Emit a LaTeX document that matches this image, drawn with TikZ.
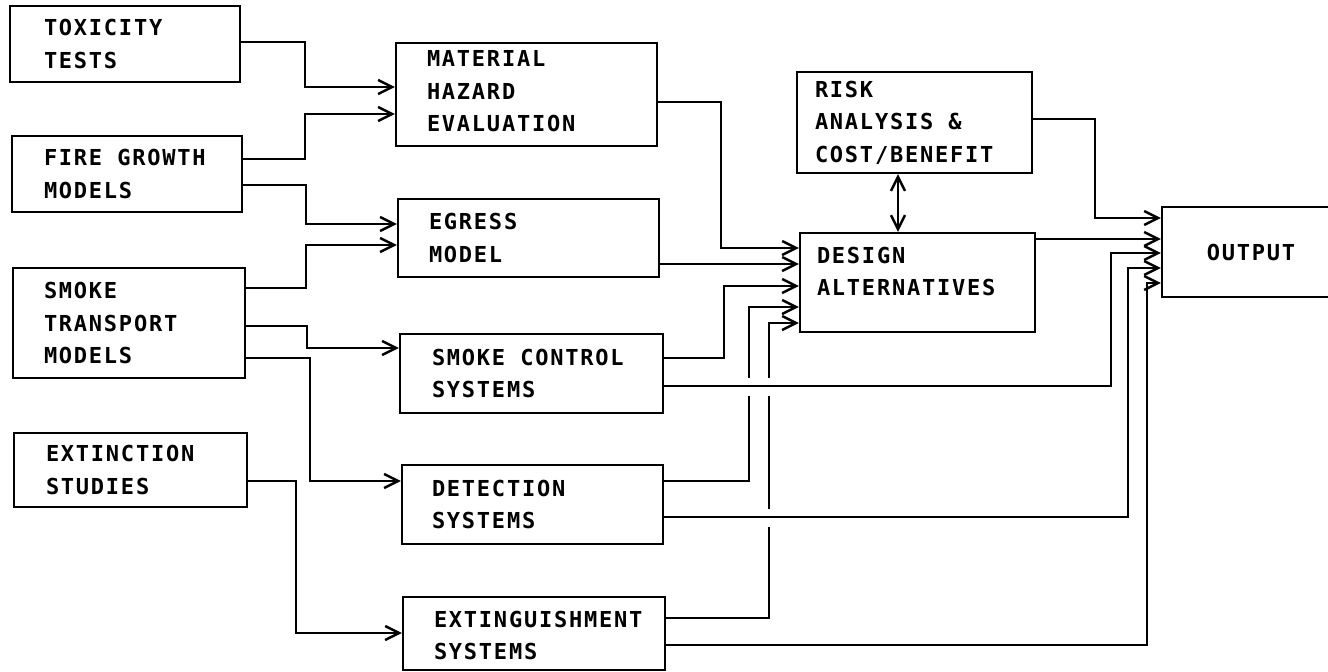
\documentclass[tikz,border=0pt]{standalone}
\usepackage{fontspec}
\newfontfamily\diagfont[LetterSpace=8]{DejaVu Sans Mono}
\usetikzlibrary{arrows.meta}
\begin{document}
\begin{tikzpicture}[x=1pt,y=-1pt,
  box/.style={draw, line width=2.4pt, inner sep=0pt},
  lbl/.style={anchor=west, inner sep=0pt, align=left,
    font={\diagfont\bfseries\fontsize{22}{32.5}\selectfont}},
  conn/.style={line width=2.4pt},
  arr/.style={conn, -{Straight Barb[length=14pt,width=14pt]}},
  dbl/.style={conn, {Straight Barb[length=14pt,width=14pt]}-{Straight Barb[length=14pt,width=14pt]}}
]
\fill[white] (0,0) rectangle (1328,672);
\useasboundingbox (0,0) rectangle (1328,672);

% boxes
\node[box, minimum width=230, minimum height=76] (tox) at (125,44) {};
\node[box, minimum width=230, minimum height=76] (fire) at (127,174) {};
\node[box, minimum width=232, minimum height=110] (smoke) at (129,323) {};
\node[box, minimum width=233, minimum height=74] (ext) at (130.5,470) {};
\node[box, minimum width=261, minimum height=103] (mhe) at (526.5,94.5) {};
\node[box, minimum width=261, minimum height=78] (egress) at (528.5,238) {};
\node[box, minimum width=263, minimum height=79] (sc) at (531.5,373.5) {};
\node[box, minimum width=261, minimum height=79] (det) at (532.5,504.5) {};
\node[box, minimum width=262, minimum height=73] (exg) at (534,633.5) {};
\node[box, minimum width=235, minimum height=101] (risk) at (914.5,122.5) {};
\node[box, minimum width=235, minimum height=99] (design) at (917.5,282.5) {};
\node[box, minimum width=178, minimum height=90,
  font={\diagfont\bfseries\fontsize{22}{32.5}\selectfont}] (output) at (1251,252) {OUTPUT};

% labels
\node[lbl] (toxt) at ([xshift=35pt]tox.west) {TOXICITY\\TESTS};
\node[lbl] (firet) at ([xshift=33pt]fire.west) {FIRE GROWTH\\MODELS};
\node[lbl] (smoket) at ([xshift=32pt]smoke.west) {SMOKE\\TRANSPORT\\MODELS};
\node[lbl] (extt) at ([xshift=33pt]ext.west) {EXTINCTION\\STUDIES};
\node[lbl] (mhet) at ([xshift=32pt,yshift=3pt]mhe.west) {MATERIAL\\HAZARD\\EVALUATION};
\node[lbl] (egresst) at ([xshift=32pt]egress.west) {EGRESS\\MODEL};
\node[lbl] (sct) at ([xshift=33pt]sc.west) {SMOKE CONTROL\\SYSTEMS};
\node[lbl] (dett) at ([xshift=31pt]det.west) {DETECTION\\SYSTEMS};
\node[lbl] (exgt) at ([xshift=32pt,yshift=-2pt]exg.west) {EXTINGUISHMENT\\SYSTEMS};
\node[lbl] (riskt) at ([xshift=19pt]risk.west) {RISK\\ANALYSIS \&\\COST/BENEFIT};
\node[lbl] (designt) at ([xshift=18pt,yshift=11pt]design.west) {DESIGN\\ALTERNATIVES};

% inputs to first-level models
\draw[arr] (tox.east |- 0,42) -| (305,87) -- (mhe.west |- 0,87);
\draw[arr] (fire.east |- 0,159) -| (305,114) -- (mhe.west |- 0,114);
\draw[arr] (fire.east |- 0,185) -| (306,224) -- (egress.west |- 0,224);
\draw[arr] (smoke.east |- 0,288) -| (306,245) -- (egress.west |- 0,245);
\draw[arr] (smoke.east |- 0,326) -| (307,348) -- (sc.west |- 0,348);
\draw[arr] (smoke.east |- 0,358) -| (310,481) -- (det.west |- 0,481);
\draw[arr] (ext.east |- 0,481) -| (296,633) -- (exg.west |- 0,633);

% to design alternatives
\draw[arr] (mhe.east |- 0,102) -| (721,248) -- (design.west |- 0,248);
\draw[arr] (egress.east |- 0,264) -- (design.west |- 0,264);
\draw[arr] (sc.east |- 0,358) -| (724,286) -- (design.west |- 0,286);
\draw[arr] (det.east |- 0,481) -| (749,396) (749,378) |- (design.west |- 0,307);
\draw[arr] (exg.east |- 0,618) -| (769,527) (769,509) -- (769,396) (769,378) |- (design.west |- 0,323);

% risk <-> design
\draw[dbl] (898,0 |- risk.south) -- (898,0 |- design.north);

% to output
\draw[arr] (risk.east |- 0,119) -| (1095,218) -- (output.west |- 0,218);
\draw[arr] (design.east |- 0,239) -- (output.west |- 0,239);
\draw[arr] (sc.east |- 0,386) -| (1111,253) -- (output.west |- 0,253);
\draw[arr] (det.east |- 0,517) -| (1128,268) -- (output.west |- 0,268);
\draw[arr] (exg.east |- 0,645) -| (1147,283) -- (output.west |- 0,283);
\end{tikzpicture}
\end{document}
